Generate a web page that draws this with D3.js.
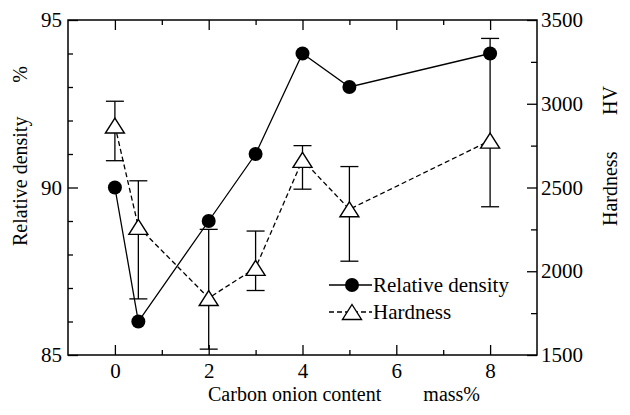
<!DOCTYPE html>
<html>
<head>
<meta charset="utf-8">
<script src="https://cdn.jsdelivr.net/npm/d3@7"></script>
</head>
<body style="margin:0">
<div id="chartDiv"></div>
<script>
// data
var contents=[0,0.5,2,3,4,5,8];
var density=[90,86,89,91,94,93,94];
var hardness=[2870,2265,1840,2020,2665,2370,2780];
var hardErrHigh=[3015,2540,2250,2240,2750,2625,3390];
var hardErrLow=[2660,1835,1535,1885,2490,2060,2385];
var xMajor=[0,2,4,6,8], xMinor=[1,3,5,7];
var leftMajor=[85,90,95], leftMinor=[86,87,88,89,91,92,93,94];
var rightMajor=[1500,2000,2500,3000,3500], rightMinor=[1750,2250,2750,3250];

var width=630,height=415;
var margin={top:20,right:93,bottom:60,left:68};
var w=width-margin.left-margin.right, h=height-margin.top-margin.bottom;

var root=d3.select('#chartDiv').append('svg')
    .attr('width',width).attr('height',height)
    .attr('font-family','Liberation Serif');
var svg=root.append('g')
    .attr('transform','translate('+margin.left+','+margin.top+')');

var xScale=d3.scaleLinear().domain([-1,9]).range([0,w]);
var yLeft=d3.scaleLinear().domain([85,95]).range([h,0]);
var yRight=d3.scaleLinear().domain([1500,3500]).range([h,0]);

function addAxis(axis,tx,ty){
    var g=svg.append('g').attr('transform','translate('+tx+','+ty+')').call(axis);
    g.attr('font-family','Liberation Serif').attr('font-size',21);
    g.select('.domain').remove();
    g.selectAll('line').attr('stroke','black').attr('stroke-width',1.3);
    g.selectAll('text').attr('font-family','Liberation Serif').attr('font-size',21);
    return g;
}

// x axes (bottom with labels, top mirrored)
addAxis(d3.axisBottom(xScale).tickValues(xMajor).tickSize(-10).tickSizeOuter(0).tickPadding(8).tickFormat(d3.format('d')),0,h);
addAxis(d3.axisBottom(xScale).tickValues(xMinor).tickSize(-5).tickSizeOuter(0).tickFormat(''),0,h);
addAxis(d3.axisTop(xScale).tickValues(xMajor).tickSize(-10).tickSizeOuter(0).tickFormat(''),0,0);
addAxis(d3.axisTop(xScale).tickValues(xMinor).tickSize(-5).tickSizeOuter(0).tickFormat(''),0,0);

// left axis
addAxis(d3.axisLeft(yLeft).tickValues(leftMajor).tickSize(-10).tickSizeOuter(0).tickPadding(6).tickFormat(d3.format('d')),0,0);
addAxis(d3.axisLeft(yLeft).tickValues(leftMinor).tickSize(-5).tickSizeOuter(0).tickFormat(''),0,0);

// right axis
addAxis(d3.axisRight(yRight).tickValues(rightMajor).tickSize(-10).tickSizeOuter(0).tickPadding(4).tickFormat(d3.format('d')),w,0);
addAxis(d3.axisRight(yRight).tickValues(rightMinor).tickSize(-6).tickSizeOuter(0).tickFormat(''),w,0);

// frame
svg.append('rect').attr('x',0).attr('y',0).attr('width',w).attr('height',h)
    .attr('fill','none').attr('stroke','black').attr('stroke-width',1.5);

var hardData=contents.map(function(c,i){
    return {x:c,v:hardness[i],hi:hardErrHigh[i],lo:hardErrLow[i]};
});
var densData=contents.map(function(c,i){ return {x:c,v:density[i]}; });

// error bars
var err=svg.selectAll('.err').data(hardData).enter().append('g').attr('class','err');
err.append('line')
    .attr('x1',function(d){return xScale(d.x);}).attr('x2',function(d){return xScale(d.x);})
    .attr('y1',function(d){return yRight(d.hi);}).attr('y2',function(d){return yRight(d.lo);});
err.append('line')
    .attr('x1',function(d){return xScale(d.x)-9;}).attr('x2',function(d){return xScale(d.x)+9;})
    .attr('y1',function(d){return yRight(d.hi);}).attr('y2',function(d){return yRight(d.hi);});
err.append('line')
    .attr('x1',function(d){return xScale(d.x)-9;}).attr('x2',function(d){return xScale(d.x)+9;})
    .attr('y1',function(d){return yRight(d.lo);}).attr('y2',function(d){return yRight(d.lo);});
err.selectAll('line').attr('stroke','black').attr('stroke-width',1.3);

// hardness dashed line
svg.append('path').datum(hardData)
    .attr('d',d3.line().x(function(d){return xScale(d.x);}).y(function(d){return yRight(d.v);}))
    .attr('fill','none').attr('stroke','black').attr('stroke-width',1.3).attr('stroke-dasharray','5,3');

// density solid line
svg.append('path').datum(densData)
    .attr('d',d3.line().x(function(d){return xScale(d.x);}).y(function(d){return yLeft(d.v);}))
    .attr('fill','none').attr('stroke','black').attr('stroke-width',1.3);

function triPath(x,y){
    return 'M'+x+','+(y-7.5)+'L'+(x+9.5)+','+(y+7.5)+'L'+(x-9.5)+','+(y+7.5)+'Z';
}

svg.selectAll('.tri').data(hardData).enter().append('path')
    .attr('d',function(d){return triPath(xScale(d.x),yRight(d.v));})
    .attr('fill','white').attr('stroke','black').attr('stroke-width',1.4);

svg.selectAll('.dot').data(densData).enter().append('circle')
    .attr('cx',function(d){return xScale(d.x);})
    .attr('cy',function(d){return yLeft(d.v);})
    .attr('r',7).attr('fill','black');

// legend
var legend=svg.append('g').attr('transform','translate('+(329-margin.left)+','+(285-margin.top)+')');
legend.append('line').attr('x1',0).attr('x2',43).attr('y1',0).attr('y2',0)
    .attr('stroke','black').attr('stroke-width',1.3);
legend.append('circle').attr('cx',23).attr('cy',0).attr('r',7).attr('fill','black');
legend.append('text').attr('x',44).attr('y',7).attr('font-family','Liberation Serif').attr('font-size',21).text('Relative density');
legend.append('line').attr('x1',0).attr('x2',43).attr('y1',27).attr('y2',27)
    .attr('stroke','black').attr('stroke-width',1.3).attr('stroke-dasharray','5,3');
legend.append('path').attr('d',triPath(23,27)).attr('fill','white').attr('stroke','black').attr('stroke-width',1.4);
legend.append('text').attr('x',44).attr('y',34).attr('font-family','Liberation Serif').attr('font-size',21).text('Hardness');

// axis titles
function title(){
    return root.append('text').attr('font-family','Liberation Serif').attr('font-size',20);
}
title().attr('x',208).attr('y',401).text('Carbon onion content');
title().attr('x',480).attr('y',401).attr('text-anchor','end').text('mass%');

title().attr('transform','translate(27,246) rotate(-90)').text('Relative density');
title().attr('transform','translate(27,66) rotate(-90)').attr('text-anchor','end').text('%');

title().attr('transform','translate(617,226) rotate(-90)').text('Hardness');
title().attr('transform','translate(617,86) rotate(-90)').attr('text-anchor','end').text('HV');
</script>
</body>
</html>
